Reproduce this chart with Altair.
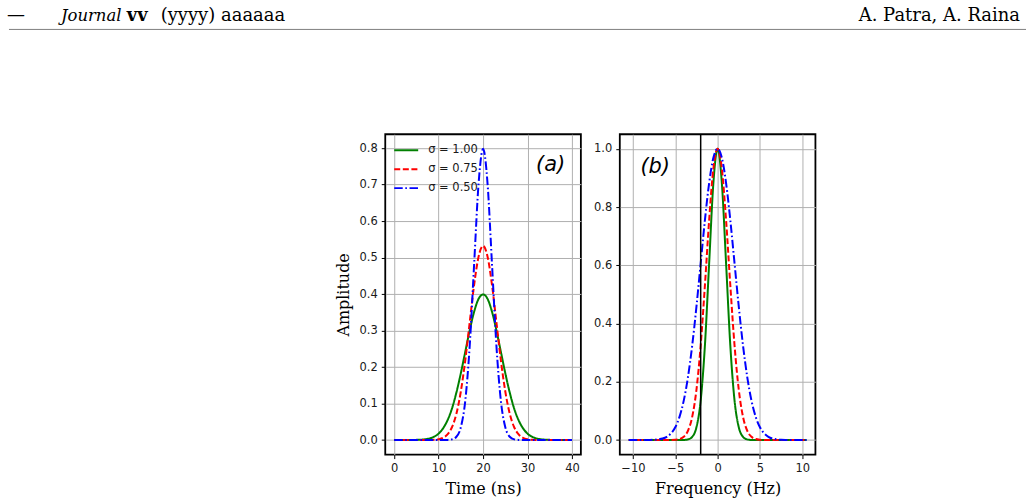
import altair as alt
import pandas as pd

# ---- pulse amplitudes in the time domain (panel a) ----
TIME_NS = [0, 1, 2, 3, 4, 5, 6, 7, 8, 9, 10, 11, 12, 13, 14, 15, 16, 17, 18, 19, 20,
           21, 22, 23, 24, 25, 26, 27, 28, 29, 30, 31, 32, 33, 34, 35, 36, 37, 38, 39, 40]
AMP_S100 = [0.0, 0.0, 0.0, 0.0, 0.0001, 0.0004, 0.0009, 0.0020, 0.0044, 0.0091, 0.0175,
            0.032, 0.054, 0.086, 0.130, 0.183, 0.242, 0.301, 0.352, 0.387, 0.399,
            0.387, 0.352, 0.301, 0.242, 0.183, 0.130, 0.086, 0.054, 0.032, 0.0175,
            0.0091, 0.0044, 0.0020, 0.0009, 0.0004, 0.0001, 0.0, 0.0, 0.0, 0.0]
AMP_S075 = [0.0, 0.0, 0.0, 0.0, 0.0, 0.0, 0.0, 0.0, 0.0002, 0.0006, 0.0021,
            0.0059, 0.0152, 0.035, 0.072, 0.133, 0.219, 0.323, 0.426, 0.503, 0.532,
            0.503, 0.426, 0.323, 0.219, 0.133, 0.072, 0.035, 0.0152, 0.0059, 0.0021,
            0.0006, 0.0002, 0.0, 0.0, 0.0, 0.0, 0.0, 0.0, 0.0, 0.0]
AMP_S050 = [0.0, 0.0, 0.0, 0.0, 0.0, 0.0, 0.0, 0.0, 0.0, 0.0, 0.0,
            0.0, 0.0003, 0.0017, 0.0089, 0.035, 0.108, 0.259, 0.484, 0.704, 0.798,
            0.704, 0.484, 0.259, 0.108, 0.035, 0.0089, 0.0017, 0.0003, 0.0, 0.0,
            0.0, 0.0, 0.0, 0.0, 0.0, 0.0, 0.0, 0.0, 0.0, 0.0]

# ---- normalised spectra (panel b) ----
FREQ_HZ = [-10.5, -10.0, -9.5, -9.0, -8.5, -8.0, -7.5, -7.0, -6.5, -6.0, -5.5, -5.0,
           -4.5, -4.0, -3.5, -3.0, -2.5, -2.0, -1.5, -1.0, -0.5, 0.0,
           0.5, 1.0, 1.5, 2.0, 2.5, 3.0, 3.5, 4.0, 4.5, 5.0, 5.5, 6.0,
           6.5, 7.0, 7.5, 8.0, 8.5, 9.0, 9.5, 10.0, 10.5]
SPEC_S100 = [0.0, 0.0, 0.0, 0.0, 0.0, 0.0, 0.0, 0.0, 0.0, 0.0, 0.0, 0.0,
             0.0, 0.0003, 0.0022, 0.0111, 0.0439, 0.1353, 0.3247, 0.6065, 0.8825, 1.0,
             0.8825, 0.6065, 0.3247, 0.1353, 0.0439, 0.0111, 0.0022, 0.0003, 0.0, 0.0, 0.0, 0.0,
             0.0, 0.0, 0.0, 0.0, 0.0, 0.0, 0.0, 0.0, 0.0]
SPEC_S075 = [0.0, 0.0, 0.0, 0.0, 0.0, 0.0, 0.0, 0.0, 0.0, 0.0, 0.0002, 0.0009,
             0.0034, 0.0111, 0.0319, 0.0796, 0.1724, 0.3247, 0.531, 0.7548, 0.932, 1.0,
             0.932, 0.7548, 0.531, 0.3247, 0.1724, 0.0796, 0.0319, 0.0111, 0.0034, 0.0009, 0.0002, 0.0,
             0.0, 0.0, 0.0, 0.0, 0.0, 0.0, 0.0, 0.0, 0.0]
SPEC_S050 = [0.0, 0.0, 0.0, 0.0, 0.0001, 0.0003, 0.0009, 0.0022, 0.0051, 0.0111, 0.0228, 0.0439,
             0.0796, 0.1353, 0.2163, 0.3247, 0.4578, 0.6065, 0.7548, 0.8825, 0.9692, 1.0,
             0.9692, 0.8825, 0.7548, 0.6065, 0.4578, 0.3247, 0.2163, 0.1353, 0.0796, 0.0439, 0.0228, 0.0111,
             0.0051, 0.0022, 0.0009, 0.0003, 0.0001, 0.0, 0.0, 0.0, 0.0]

MARKER_FREQ = [-2.0]

SERIES = ["σ = 1.00", "σ = 0.75", "σ = 0.50"]
COLORS = ["green", "red", "blue"]
DASHES = [[1, 0], [6, 2.6], [8.5, 2.6, 1.6, 2.6]]

# axis ticks
TIME_TICKS = [0, 10, 20, 30, 40]
AMP_TICKS = [0.0, 0.1, 0.2, 0.3, 0.4, 0.5, 0.6, 0.7, 0.8]
FREQ_TICKS = [-10, -5, 0, 5, 10]
SPEC_TICKS = [0.0, 0.2, 0.4, 0.6, 0.8, 1.0]

# panel tags
TAG_A = {"x": [35.2], "y": [0.753], "label": ["(a)"]}
TAG_B = {"x": [-7.37], "y": [0.938], "label": ["(b)"]}

# ---- layout constants (pixels) ----
PAGE_W, PAGE_H = 1034, 502
A_LEFT, A_TOP = 385, 133
PANEL_W, PANEL_H = 196, 321
GAP = 39

GRID = "#b0b0b0"
INK = "#1a1a1a"


def long_table(xs, columns):
    frames = []
    for name, ys in zip(SERIES, columns):
        frames.append(pd.DataFrame({"x": xs, "y": ys, "series": name}))
    return pd.concat(frames, ignore_index=True)


time_df = long_table(TIME_NS, [AMP_S100, AMP_S075, AMP_S050])
freq_df = long_table(FREQ_HZ, [SPEC_S100, SPEC_S075, SPEC_S050])
ONE = pd.DataFrame({"k": [0]})


def axis(values, fmt, title=None, title_pad=6):
    return alt.Axis(values=values, format=fmt, grid=True, gridColor=GRID, gridWidth=1,
                    domain=False, ticks=True, tickColor="black", tickSize=4, tickWidth=1,
                    labelFont="DejaVu Sans", labelFontSize=11.5, labelColor=INK,
                    labelPadding=4, titleFont="DejaVu Serif", titleFontSize=16,
                    titleFontWeight="normal", titleColor="black", titlePadding=title_pad,
                    title=title)


LEGEND = alt.Legend(orient="none", legendX=8, legendY=3, title=None, symbolType="stroke",
                    symbolSize=576, symbolStrokeWidth=2, labelFont="DejaVu Sans",
                    labelFontSize=11.5, labelColor=INK, labelOffset=9, rowPadding=-1,
                    padding=0, direction="vertical")


def curve_layers(df, xscale, yscale, xax, yax, legend):
    layers = []
    for name in SERIES:
        layers.append(
            alt.Chart(df).transform_filter(alt.datum.series == name)
            .mark_line(strokeWidth=2, interpolate="monotone")
            .encode(
                x=alt.X("x:Q", scale=xscale, axis=xax),
                y=alt.Y("y:Q", scale=yscale, axis=yax),
                color=alt.Color("series:N", scale=alt.Scale(domain=SERIES, range=COLORS),
                                legend=legend),
                strokeDash=alt.StrokeDash("series:N",
                                          scale=alt.Scale(domain=SERIES, range=DASHES),
                                          legend=legend),
            )
        )
    return layers


def page_text(text, px, py, **style):
    # header text positioned in page pixels, expressed relative to panel (a)
    return alt.Chart(ONE).mark_text(text=text, align=style.pop("align", "left"),
                                    baseline="alphabetic", color="black", **style).encode(
        x=alt.value(px - A_LEFT), y=alt.value(py - A_TOP))


# ---- panel (a) ----
xs_a = alt.Scale(domain=[-2.0, 42.0], nice=False, zero=False)
ys_a = alt.Scale(domain=[-0.04, 0.838], nice=False, zero=False)

tag_a = alt.Chart(pd.DataFrame(TAG_A)).mark_text(
    font="DejaVu Sans", fontStyle="italic", fontSize=21, color="black",
    align="center", baseline="middle").encode(
    x=alt.X("x:Q", scale=xs_a), y=alt.Y("y:Q", scale=ys_a), text="label:N")

anchor = alt.Chart(ONE).mark_rule(color="white", strokeOpacity=0, strokeWidth=0).encode(
    x=alt.value(-A_LEFT), x2=alt.value(PAGE_W - A_LEFT),
    y=alt.value(-A_TOP), y2=alt.value(PAGE_H - A_TOP))

header_rule = alt.Chart(ONE).mark_rule(color="#808080", strokeWidth=1).encode(
    x=alt.value(8 - A_LEFT), x2=alt.value(1027 - A_LEFT),
    y=alt.value(28 - A_TOP))

header = [
    page_text("—", 6, 20, font="DejaVu Serif", fontSize=18),
    page_text("Journal", 60, 20, font="DejaVu Serif", fontSize=16.5, fontStyle="italic"),
    page_text("vv", 126, 20, font="DejaVu Serif", fontSize=18, fontWeight="bold"),
    page_text("(yyyy) aaaaaa", 160, 20, font="DejaVu Serif", fontSize=18),
    page_text("A. Patra, A. Raina", 1021, 20, font="DejaVu Serif", fontSize=18, align="right"),
]

panel_a = alt.layer(
    anchor,
    header_rule,
    *header,
    *curve_layers(time_df, xs_a, ys_a,
                  axis(TIME_TICKS, "d", "Time (ns)", 6),
                  axis(AMP_TICKS, ".1f", "Amplitude", 8),
                  LEGEND),
    tag_a,
).properties(width=PANEL_W, height=PANEL_H)

# ---- panel (b) ----
xs_b = alt.Scale(domain=[-11.55, 11.55], nice=False, zero=False)
ys_b = alt.Scale(domain=[-0.05, 1.05], nice=False, zero=False)

tag_b = alt.Chart(pd.DataFrame(TAG_B)).mark_text(
    font="DejaVu Sans", fontStyle="italic", fontSize=21, color="black",
    align="center", baseline="middle").encode(
    x=alt.X("x:Q", scale=xs_b), y=alt.Y("y:Q", scale=ys_b), text="label:N")

marker = alt.Chart(pd.DataFrame({"f": MARKER_FREQ})).mark_rule(
    color="black", strokeWidth=1.5).encode(x=alt.X("f:Q", scale=xs_b))

panel_b = alt.layer(
    *curve_layers(freq_df, xs_b, ys_b,
                  axis(FREQ_TICKS, "d", "Frequency (Hz)", 6),
                  axis(SPEC_TICKS, ".1f", None),
                  None),
    marker,
    tag_b,
).properties(width=PANEL_W, height=PANEL_H)

chart = (
    alt.hconcat(panel_a, panel_b, spacing=GAP, bounds="flush", padding=0,
                background="white")
    .resolve_scale(color="independent", strokeDash="independent")
    .configure_view(stroke="black", strokeWidth=1.8)
)

chart.save("out.html", embed_options={"renderer": "svg", "actions": False})
